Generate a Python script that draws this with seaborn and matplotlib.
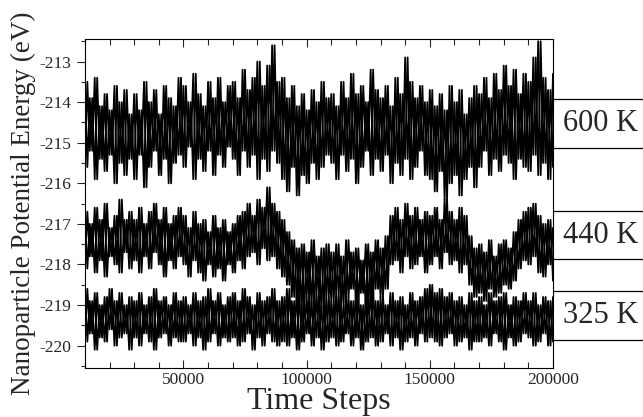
import numpy as np
import matplotlib
matplotlib.use('Agg')
import matplotlib.pyplot as plt
from matplotlib.ticker import MultipleLocator
import seaborn as sns

# ─────────────────────────────────────────────
# DATA  (upper / lower excursions every 2000 steps)
# ─────────────────────────────────────────────
steps = np.arange(10000, 200001, 2000)

hi_600 = [-213.5, -213.9, -213.4, -214.1, -213.8, -214.2, -213.6, -214.0, -213.7, -214.3,
          -213.8, -214.2, -213.5, -214.0, -213.7, -214.3, -213.6, -213.9, -214.1, -213.4,
          -213.6, -214.0, -213.3, -213.8, -214.1, -213.5, -213.9, -213.4, -214.0, -213.6,
          -213.5, -213.9, -213.2, -213.7, -213.4, -213.0, -213.6, -213.1, -212.6, -213.5,
          -213.4, -213.9, -213.6, -214.1, -213.8, -214.2, -213.7, -214.0, -213.5, -213.9,
          -213.8, -214.1, -213.5, -213.9, -213.3, -213.8, -213.6, -214.0, -213.2, -213.7,
          -213.9, -213.6, -214.1, -213.4, -213.8, -212.9, -213.5, -213.9, -213.6, -214.0,
          -213.7, -214.1, -213.8, -214.2, -213.6, -214.0, -213.7, -214.3, -213.9, -213.6,
          -213.8, -213.4, -213.9, -213.3, -213.7, -213.1, -213.6, -213.2, -213.8, -213.3,
          -213.5, -212.9, -212.5, -213.4, -213.7, -213.3]
lo_600 = [-215.6, -215.2, -215.9, -215.4, -215.7, -215.3, -216.0, -215.5, -215.8, -215.4,
          -215.9, -215.3, -216.1, -215.6, -215.2, -215.8, -215.4, -216.0, -215.5, -215.3,
          -215.6, -215.1, -215.9, -215.4, -215.7, -215.2, -215.8, -215.3, -215.6, -215.1,
          -215.4, -215.8, -215.2, -215.6, -215.3, -215.9, -215.4, -215.7, -215.2, -215.5,
          -215.9, -216.2, -215.6, -216.3, -215.8, -216.0, -215.5, -215.9, -215.6, -215.3,
          -215.5, -215.9, -215.3, -215.7, -215.4, -216.0, -215.6, -215.2, -215.8, -215.4,
          -215.7, -215.3, -216.0, -215.5, -215.8, -215.4, -215.9, -215.6, -215.2, -215.8,
          -215.9, -216.2, -215.7, -216.4, -216.0, -215.8, -216.3, -215.9, -215.6, -216.1,
          -215.6, -215.2, -215.8, -215.4, -215.7, -215.3, -215.5, -215.9, -215.4, -215.6,
          -215.7, -215.3, -215.8, -215.5, -215.9, -215.6]

hi_440 = [-216.7, -217.0, -216.6, -216.9, -216.5, -217.1, -216.8, -216.4, -216.9, -216.7,
          -216.9, -216.6, -217.0, -216.7, -216.5, -216.9, -216.6, -217.0, -216.8, -216.6,
          -216.8, -217.1, -216.7, -217.0, -216.9, -217.2, -216.8, -217.1, -216.9, -217.2,
          -217.0, -216.8, -216.7, -216.5, -216.8, -216.4, -216.6, -216.1, -216.5, -216.7,
          -216.9, -217.2, -217.4, -217.6, -217.5, -217.7, -217.4, -217.8, -217.6, -217.5,
          -217.7, -217.5, -217.8, -217.4, -217.7, -217.6, -217.9, -217.5, -217.7, -217.4,
          -217.6, -217.3, -216.8, -216.6, -216.9, -216.5, -216.8, -216.6, -216.9, -216.7,
          -216.8, -216.6, -216.9, -216.4, -216.7, -216.9, -216.6, -216.8, -217.3, -217.6,
          -217.5, -217.7, -217.4, -217.8, -217.5, -217.4, -217.6, -217.2, -216.9, -216.7,
          -216.6, -216.5, -216.8, -217.0, -216.9, -217.1]
lo_440 = [-218.1, -217.8, -218.2, -217.9, -218.3, -217.8, -218.0, -218.2, -217.7, -218.1,
          -217.9, -218.2, -217.8, -218.1, -217.7, -218.0, -218.3, -217.9, -218.1, -217.8,
          -218.0, -218.3, -217.9, -218.2, -218.4, -218.0, -218.3, -218.1, -218.4, -218.0,
          -218.2, -217.9, -218.1, -217.8, -217.7, -218.0, -217.6, -217.9, -217.8, -218.1,
          -218.3, -218.5, -218.8, -218.9, -219.1, -218.8, -219.0, -218.7, -219.1, -218.8,
          -218.9, -218.7, -219.0, -218.8, -218.6, -218.9, -218.7, -219.0, -218.8, -218.6,
          -218.8, -218.6, -218.0, -217.9, -218.2, -217.8, -218.1, -218.0, -217.8, -218.2,
          -218.0, -217.8, -218.1, -217.7, -218.0, -217.9, -218.2, -218.0, -218.5, -218.8,
          -218.7, -218.9, -218.6, -218.8, -218.7, -218.5, -218.6, -218.4, -218.1, -217.9,
          -218.0, -217.8, -218.2, -218.3, -218.0, -218.4]

hi_325 = [-218.6, -218.9, -218.7, -219.0, -218.8, -218.6, -218.9, -218.7, -219.0, -218.8,
          -218.9, -218.7, -219.0, -218.8, -218.6, -218.9, -218.8, -219.0, -218.7, -218.9,
          -218.8, -219.0, -218.7, -218.9, -218.8, -218.6, -218.9, -218.7, -219.0, -218.8,
          -218.7, -218.9, -218.6, -218.8, -219.0, -218.7, -218.9, -218.8, -218.6, -218.9,
          -218.8, -218.6, -218.9, -218.7, -219.0, -218.8, -218.9, -218.7, -219.0, -218.8,
          -218.9, -218.7, -219.0, -218.8, -218.9, -218.7, -219.0, -218.8, -218.6, -218.9,
          -218.8, -219.0, -218.7, -218.9, -218.8, -219.0, -218.7, -218.9, -218.8, -218.6,
          -218.5, -218.7, -218.6, -218.8, -218.7, -218.9, -218.8, -219.0, -218.7, -218.9,
          -218.8, -219.0, -218.7, -218.9, -218.8, -218.7, -219.0, -218.8, -218.9, -218.7,
          -218.9, -218.7, -219.0, -218.8, -218.9, -218.8]
lo_325 = [-219.9, -219.7, -220.1, -219.8, -219.9, -219.6, -220.0, -219.8, -219.7, -220.1,
          -219.8, -220.0, -219.7, -219.9, -220.1, -219.8, -219.7, -220.0, -219.8, -219.9,
          -219.9, -219.7, -220.0, -219.8, -220.1, -219.9, -219.7, -220.0, -219.8, -219.9,
          -219.8, -220.0, -219.9, -219.7, -220.1, -219.8, -220.0, -219.7, -219.9, -220.0,
          -219.9, -220.0, -219.8, -220.1, -219.9, -219.7, -220.0, -219.8, -220.1, -219.9,
          -219.8, -220.0, -219.9, -219.7, -220.0, -219.8, -220.1, -219.9, -219.8, -220.0,
          -219.9, -219.7, -220.0, -219.8, -220.1, -219.9, -219.8, -220.0, -219.7, -219.9,
          -219.8, -219.9, -220.0, -219.8, -219.7, -220.0, -219.9, -219.8, -220.1, -219.9,
          -219.9, -219.8, -220.0, -219.7, -219.9, -220.1, -219.8, -220.0, -219.9, -219.7,
          -219.8, -220.0, -219.9, -219.7, -220.0, -219.9]

labels = ['600 K', '440 K', '325 K']
series = [(hi_600, lo_600), (hi_440, lo_440), (hi_325, lo_325)]
# label box edges (eV) on the right of the plot
boxes = [(-213.93, -215.13), (-216.69, -217.87), (-218.66, -219.86)]

# ─────────────────────────────────────────────
# PLOT
# ─────────────────────────────────────────────
sns.set_style('ticks')
plt.rcParams['font.family'] = ['Liberation Serif', 'DejaVu Serif']
plt.rcParams['axes.unicode_minus'] = False

fig, ax = plt.subplots(figsize=(6.43, 4.17), dpi=100)
fig.subplots_adjust(left=0.132, right=0.860, top=0.906, bottom=0.1175)

for hi, lo in series:
    # two interleavings of the same excursions make the dense trace
    for first, second in ((hi, lo), (lo, hi)):
        x = np.empty(2 * len(steps))
        y = np.empty(2 * len(steps))
        x[0::2] = steps
        x[1::2] = steps + 1000
        y[0::2] = first
        y[1::2] = second
        sns.lineplot(x=x, y=y, ax=ax, color='black', linewidth=1.3,
                     estimator=None, sort=False)

ax.set_xlim(10000, 200000)
ax.set_ylim(-220.55, -212.45)
ax.xaxis.set_major_locator(MultipleLocator(50000))
ax.xaxis.set_minor_locator(MultipleLocator(10000))
ax.yaxis.set_major_locator(MultipleLocator(1))
ax.yaxis.set_minor_locator(MultipleLocator(0.5))
ax.tick_params(axis='x', which='both', direction='in', top=True, bottom=True,
               labelsize=12.5, pad=3)
ax.tick_params(axis='x', which='major', length=6, width=0.8)
ax.tick_params(axis='x', which='minor', length=4, width=0.8)
ax.tick_params(axis='y', which='both', direction='out', left=True, right=False,
               labelsize=12.5)
ax.tick_params(axis='y', which='major', length=6, width=0.8)
ax.tick_params(axis='y', which='minor', length=3, width=0.8)
for s in ax.spines.values():
    s.set_linewidth(0.8)
    s.set_color('black')

ax.set_xlabel('Time Steps', fontsize=23, labelpad=-1)
ax.set_ylabel('Nanoparticle Potential Energy (eV)', fontsize=19.5, labelpad=3)

trans = ax.get_yaxis_transform()
for lab, (top, bot) in zip(labels, boxes):
    for yv in (top, bot):
        ax.plot([1.0, 1.2], [yv, yv], color='black', linewidth=0.9,
                transform=trans, clip_on=False)
    ax.text(1.022, (top + bot) / 2, lab, transform=trans, fontsize=22,
            ha='left', va='center')

plt.savefig('out.png', dpi=100)
plt.close()
